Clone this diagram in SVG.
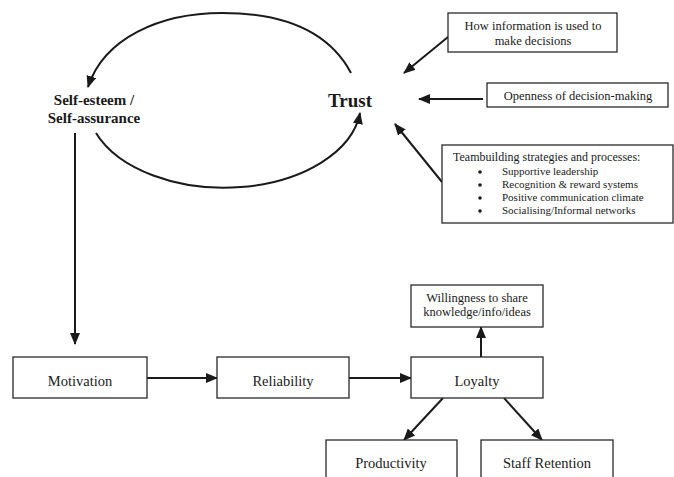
<svg xmlns="http://www.w3.org/2000/svg" width="674" height="477" viewBox="0 0 674 477" font-family="'Liberation Serif', 'DejaVu Serif', 'Times New Roman', serif">
<style>
  .box { fill: #ffffff; stroke: #2a2a2a; stroke-width: 1.3; }
  text { font-family: "Liberation Serif", "DejaVu Serif", "Times New Roman", serif; fill: #1a1a1a; }
  .tm { font-size: 12.5px; text-anchor: middle; }
  .tb { font-size: 14.5px; text-anchor: middle; }
  .ts { font-size: 11px; }
  .bold { font-weight: bold; text-anchor: middle; }
  .con { fill: none; stroke: #1a1a1a; stroke-width: 2; marker-end: url(#ah); }
</style>
<defs>
  <marker id="ah" viewBox="0 0 12 10" refX="11" refY="5" markerWidth="12" markerHeight="10" markerUnits="userSpaceOnUse" orient="auto">
    <path d="M0,0 L12,5 L0,10 z" fill="#1a1a1a"/>
  </marker>
</defs>
<rect width="674" height="477" fill="#ffffff"/>

<g id="connectors">
  <path class="con" d="M351,73 C328,30 282,13 222,13 C160,13 104,38 88,87"/>
  <path class="con" d="M96,133 A137 85 0 0 0 360,113"/>
  <line class="con" x1="75" y1="133" x2="75" y2="344"/>
  <line class="con" x1="448" y1="37" x2="404" y2="73"/>
  <line class="con" x1="483" y1="99" x2="419" y2="99"/>
  <line class="con" x1="442" y1="182" x2="395" y2="124"/>
  <line class="con" x1="147" y1="378" x2="217" y2="378"/>
  <line class="con" x1="349" y1="378" x2="411" y2="378"/>
  <line class="con" x1="481" y1="357" x2="481" y2="327"/>
  <line class="con" x1="443" y1="398" x2="404" y2="440"/>
  <line class="con" x1="504" y1="398" x2="542" y2="440"/>
</g>

<g id="self-esteem">
  <text class="bold" x="94" y="105" font-size="15">Self-esteem /</text>
  <text class="bold" x="94" y="123" font-size="15">Self-assurance</text>
</g>

<g id="trust">
  <text class="bold" x="350" y="107" font-size="19">Trust</text>
</g>

<g id="info-use">
  <rect class="box" x="448" y="13" width="169" height="39"/>
  <text class="tm" x="533" y="30">How information is used to</text>
  <text class="tm" x="533" y="45">make decisions</text>
</g>

<g id="openness">
  <rect class="box" x="487" y="83" width="181" height="24"/>
  <text class="tm" x="578" y="100">Openness of decision-making</text>
</g>

<g id="teambuilding">
  <rect class="box" x="442" y="145" width="231" height="78"/>
  <text x="453" y="161" font-size="12">Teambuilding strategies and processes:</text>
  <circle cx="480" cy="172" r="1.8" fill="#1a1a1a"/>
  <circle cx="480" cy="185" r="1.8" fill="#1a1a1a"/>
  <circle cx="480" cy="198" r="1.8" fill="#1a1a1a"/>
  <circle cx="480" cy="211" r="1.8" fill="#1a1a1a"/>
  <text class="ts" x="502" y="175">Supportive leadership</text>
  <text class="ts" x="502" y="188">Recognition &amp; reward systems</text>
  <text class="ts" x="502" y="201">Positive communication climate</text>
  <text class="ts" x="502" y="214">Socialising/Informal networks</text>
</g>

<g id="motivation">
  <rect class="box" x="13" y="357" width="134" height="41"/>
  <text class="tb" x="80" y="386">Motivation</text>
</g>

<g id="reliability">
  <rect class="box" x="217" y="357" width="132" height="41"/>
  <text class="tb" x="283" y="386">Reliability</text>
</g>

<g id="loyalty">
  <rect class="box" x="411" y="357" width="132" height="41"/>
  <text class="tb" x="477" y="386">Loyalty</text>
</g>

<g id="willingness">
  <rect class="box" x="411" y="285" width="132" height="42"/>
  <text class="tm" x="477" y="302">Willingness to share</text>
  <text class="tm" x="477" y="316">knowledge/info/ideas</text>
</g>

<g id="productivity">
  <rect class="box" x="326" y="440" width="131" height="45"/>
  <text class="tb" x="391" y="468">Productivity</text>
</g>

<g id="staff-retention">
  <rect class="box" x="481" y="440" width="132" height="45"/>
  <text class="tb" x="547" y="468">Staff Retention</text>
</g>
</svg>
